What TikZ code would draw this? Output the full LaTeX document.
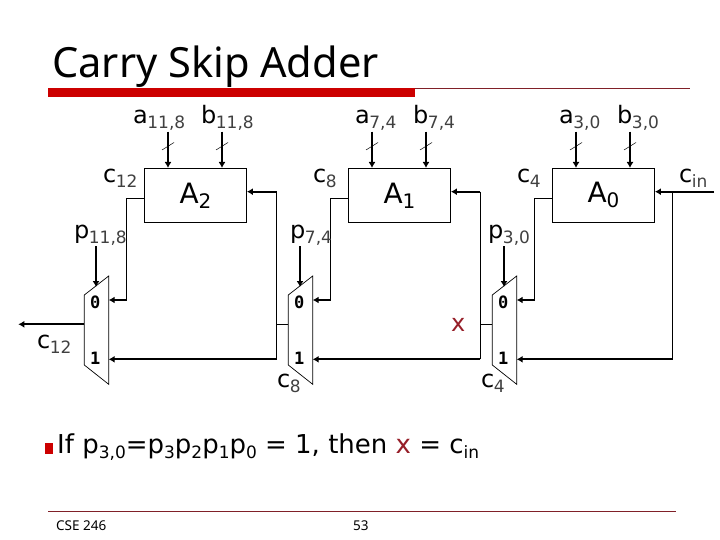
\documentclass[tikz,border=0pt]{standalone}
\usepackage{fontspec}
\setmainfont{DejaVu Sans}
\newfontfamily\slidefont{Noto Sans}
\newfontfamily\monofnt{DejaVu Sans Mono}
\usetikzlibrary{arrows.meta}
\definecolor{barred}{RGB}{204,0,0}
\definecolor{rulered}{RGB}{128,32,40}
\definecolor{xred}{RGB}{150,30,40}
\newcommand{\lab}[2]{#1\textsubscript{\kern-0.5pt\fontsize{17}{17}\selectfont\color{black!75}#2}}
\renewcommand{\textsubscript}[1]{\raisebox{-5pt}{#1}}
\tikzset{
  x=1pt,y=-1pt,
  block/.style={draw,line width=0.8pt,minimum width=102pt,minimum height=54pt,inner sep=0pt,font=\fontsize{28}{28}\selectfont},
  wire/.style={line width=0.8pt},
  bus/.style={line width=2pt,-{Latex[length=6pt,width=7pt]}},
  tick/.style={line width=0.5pt},
  txt/.style={inner sep=0pt,font=\fontsize{24}{24}\selectfont},
  muxnum/.style={inner sep=0pt,font=\monofnt\bfseries\fontsize{17}{17}\selectfont},
  muxpoly/.style={draw,line width=0.7pt},
}
\begin{document}
\begin{tikzpicture}
\useasboundingbox (0,0) rectangle (720,540);
% title and rules
\node[anchor=base west,inner sep=0pt,font=\slidefont\fontsize{41.6}{41.6}\selectfont] (title) at (52,78) {Carry Skip Adder};
\fill[barred] (48,88) rectangle (415,97.5);
\draw[rulered,line width=0.8pt] (415,88.5) -- (690,88.5);
\draw[rulered,line width=0.8pt] (48,511.5) -- (676,511.5);
\node[anchor=base west,inner sep=0pt,font=\slidefont\fontsize{13.5}{13.5}\selectfont] (foot) at (56,530) {CSE 246};
\node[anchor=base west,inner sep=0pt,font=\slidefont\fontsize{13.5}{13.5}\selectfont] (page) at (353,530) {53};
% blocks
\node[block] (A2) at (195.5,195.3) {A\textsubscript{\fontsize{20}{20}\selectfont 2}};
\node[block] (A1) at (399.5,195.3) {A\textsubscript{\fontsize{20}{20}\selectfont 1}};
\node[block] (A0) at (603.5,195.3) {A\textsubscript{\fontsize{20}{20}\selectfont 0}};
% muxes
\foreach \n/\xl in {m2/84.3,m1/288.3,m0/492.3}{
  \draw[muxpoly] (\xl,295) -- (\xl+24.4,276) -- (\xl+24.4,384.3) -- (\xl,365) -- cycle;
  \coordinate (\n o) at (\xl,324.3);
  \coordinate (\n a) at (\xl+24.4,300);
  \coordinate (\n b) at (\xl+24.4,359.3);
  \coordinate (\n s) at (\xl+11.7,287);
  \coordinate (\n t) at (\xl+11.7,246);
  \node[muxnum] (\n z) at (\xl+11,302) {0};
  \node[muxnum] (\n u) at (\xl+11,358) {1};
}
% input buses
\foreach \n/\xx in {p/168,q/222,r/372,s/426,t/576,u/630}{
  \coordinate (\n1) at (\xx,131.7);
  \coordinate (\n2) at (\xx,168);
  \coordinate (\n3) at (\xx-6,150);
  \coordinate (\n4) at (\xx+6,142.5);
  \draw[bus] (\n1) -- (\n2);
  \draw[tick] (\n3) -- (\n4);
}
% select arrows
\foreach \n in {m2,m1,m0}{\draw[bus] (\n t) -- (\n s);}
% carry outs to mux 0
\coordinate (c2) at (126.7,198.3);
\coordinate (c1) at (330.7,198.3);
\coordinate (c0) at (534.7,198.3);
\draw[wire] (c2-|A2.west) -- (c2) -- (c2|-m2a);
\draw[bus] (c2|-m2a) -- (m2a);
\draw[wire] (c1-|A1.west) -- (c1) -- (c1|-m1a);
\draw[bus] (c1|-m1a) -- (m1a);
\draw[wire] (c0-|A0.west) -- (c0) -- (c0|-m0a);
\draw[bus] (c0|-m0a) -- (m0a);
% mux outputs and skip wires
\coordinate (j2) at (276.7,191.7);
\coordinate (j1) at (480.3,191.7);
\coordinate (j0) at (672.7,191.7);
\coordinate (cinend) at (714,191.7);
\coordinate (c12end) at (18.3,324.3);
\draw[bus] (m2o) -- (c12end);
\draw[wire] (m1o) -- (m1o-|j2);
\draw[wire] (m0o) -- (m0o-|j1);
\draw[wire] (j2) -- (j2|-m2b);
\draw[wire] (j1) -- (j1|-m1b);
\draw[wire] (j0) -- (j0|-m0b);
\draw[bus] (j2) -- (j2-|A2.east);
\draw[bus] (j1) -- (j1-|A1.east);
\draw[bus] (cinend) -- (cinend-|A0.east);
\draw[bus] (j2|-m2b) -- (m2b);
\draw[bus] (j1|-m1b) -- (m1b);
\draw[bus] (j0|-m0b) -- (m0b);
% labels
\node[txt,anchor=base west] (la2) at (133,124) {\lab{a}{11,8}};
\node[txt,anchor=base west] (lb2) at (201,124) {\lab{b}{11,8}};
\node[txt,anchor=base west] (la1) at (355,124) {\lab{a}{7,4}};
\node[txt,anchor=base west] (lb1) at (413,124) {\lab{b}{7,4}};
\node[txt,anchor=base west] (la0) at (559,124) {\lab{a}{3,0}};
\node[txt,anchor=base west] (lb0) at (617,124) {\lab{b}{3,0}};
\node[txt,anchor=base west] (lc12) at (103,183) {\lab{c}{12}};
\node[txt,anchor=base west] (lc8) at (313,183) {\lab{c}{8}};
\node[txt,anchor=base west] (lc4) at (517,183) {\lab{c}{4}};
\node[txt,anchor=base west] (lcin) at (679,183) {\lab{c}{in}};
\node[txt,anchor=base west] (lp2) at (74,239) {\lab{p}{11,8}};
\node[txt,anchor=base west] (lp1) at (290,239) {\lab{p}{7,4}};
\node[txt,anchor=base west] (lp0) at (488,239) {\lab{p}{3,0}};
\node[txt,anchor=base west] (lc12b) at (37,348) {\lab{c}{12}};
\node[txt,anchor=base west] (lc8b) at (277,387) {\lab{c}{8}};
\node[txt,anchor=base west] (lc4b) at (481,387) {\lab{c}{4}};
\node[txt,anchor=base west,text=xred] (lx) at (451,331) {x};
% bullet
\fill[barred] (45,443) rectangle (53,454);
\node[anchor=base west,inner sep=0pt,font=\fontsize{26}{26}\selectfont] (bullet) at (57,453) {If p\textsubscript{\fontsize{17}{17}\selectfont 3,0}=p\textsubscript{\fontsize{17}{17}\selectfont 3}p\textsubscript{\fontsize{17}{17}\selectfont 2}p\textsubscript{\fontsize{17}{17}\selectfont 1}p\textsubscript{\fontsize{17}{17}\selectfont 0} = 1, then {\color{xred}x} = c\textsubscript{\fontsize{17}{17}\selectfont in}};
\end{tikzpicture}
\end{document}
